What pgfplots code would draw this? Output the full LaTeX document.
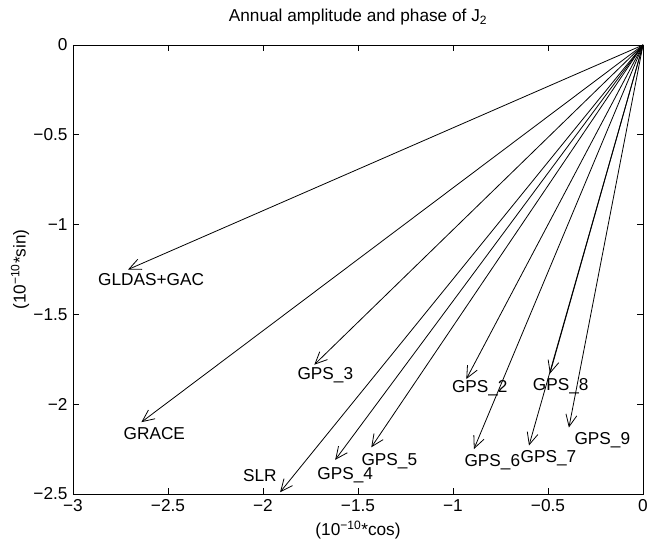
\documentclass[border=0pt]{standalone}
\usepackage{fontspec}
\setmainfont{Liberation Sans}
\usepackage{pgfplots}
\pgfplotsset{compat=1.18}
\usetikzlibrary{arrows.meta}
\newcommand{\fs}{\fontsize{17.3}{20}\selectfont}
\begin{document}
\begin{tikzpicture}
\begin{axis}[
  scale only axis,
  width=570bp, height=449bp,
  xmin=-3, xmax=0, ymin=-2.5, ymax=0,
  xtick={-3,-2.5,-2,-1.5,-1,-0.5,0},
  xticklabels={−3,−2.5,−2,−1.5,−1,−0.5,0},
  ytick={-2.5,-2,-1.5,-1,-0.5,0},
  yticklabels={−2.5,−2,−1.5,−1,−0.5,0},
  tick align=inside,
  major tick length=6bp,
  tick style={black, line width=0.6bp},
  axis line style={black, line width=0.8bp},
  tick label style={font=\fs},
  xticklabel style={yshift=-2bp},
  yticklabel style={xshift=-2bp},
  clip=false,
  myarrow/.style={black, solid, no markers, line width=0.8bp, -{Straight Barb[length=12bp,width=11bp,line width=0.8bp]}},
]
\addplot[myarrow] coordinates {(0,0) (-2.71,-1.25)};
\addplot[myarrow] coordinates {(0,0) (-2.64,-2.10)};
\addplot[myarrow] coordinates {(0,0) (-1.73,-1.78)};
\addplot[myarrow] coordinates {(0,0) (-1.91,-2.49)};
\addplot[myarrow] coordinates {(0,0) (-1.62,-2.31)};
\addplot[myarrow] coordinates {(0,0) (-1.43,-2.24)};
\addplot[myarrow] coordinates {(0,0) (-0.93,-1.86)};
\addplot[myarrow] coordinates {(0,0) (-0.89,-2.25)};
\addplot[myarrow] coordinates {(0,0) (-0.60,-2.23)};
\addplot[myarrow] coordinates {(0,0) (-0.49,-1.83)};
\addplot[myarrow] coordinates {(0,0) (-0.39,-2.13)};
\node[font=\fs] at (axis cs:-2.589,-1.306) {GLDAS+GAC};
\node[font=\fs] at (axis cs:-2.572,-2.163) {GRACE};
\node[font=\fs] at (axis cs:-1.672,-1.836) {GPS\_3};
\node[font=\fs] at (axis cs:-2.017,-2.400) {SLR};
\node[font=\fs] at (axis cs:-1.567,-2.397) {GPS\_4};
\node[font=\fs] at (axis cs:-1.335,-2.319) {GPS\_5};
\node[font=\fs] at (axis cs:-0.859,-1.910) {GPS\_2};
\node[font=\fs] at (axis cs:-0.793,-2.325) {GPS\_6};
\node[font=\fs] at (axis cs:-0.498,-2.303) {GPS\_7};
\node[font=\fs] at (axis cs:-0.433,-1.900) {GPS\_8};
\node[font=\fs] at (axis cs:-0.214,-2.200) {GPS\_9};
\end{axis}
\node[font=\fs] at (285bp,477bp) {Annual amplitude and phase of J\textsubscript{2}};
\node[font=\fs] at (285bp,-36bp) {(10\textsuperscript{−10}*cos)};
\node[font=\fs, rotate=90] at (-53bp,224.5bp) {(10\textsuperscript{−10}*sin)};
\pgfresetboundingbox
\path[use as bounding box] (-73bp,-55bp) rectangle (576bp,494bp);
\end{tikzpicture}
\end{document}
